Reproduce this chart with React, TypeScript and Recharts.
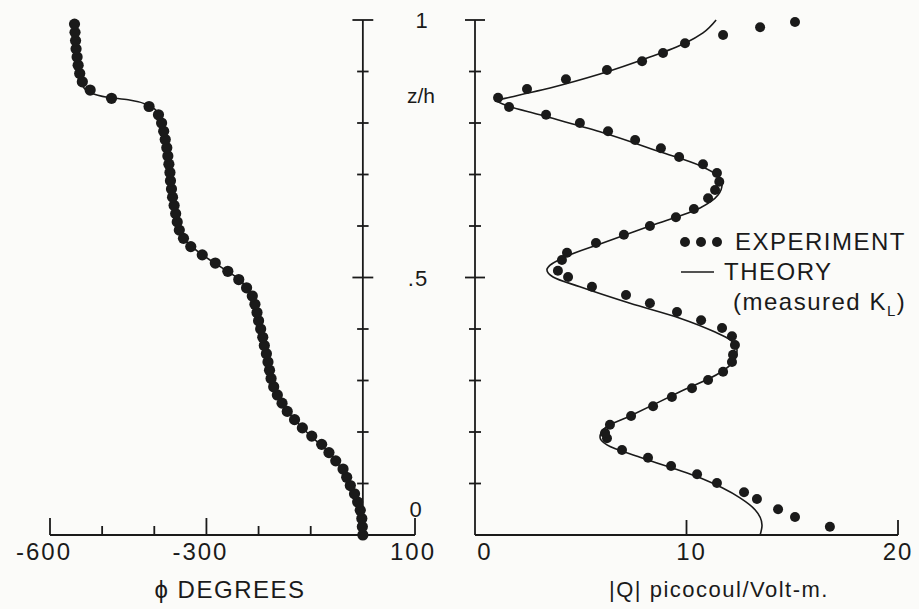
import React from 'react'
import { ScatterChart, Scatter, XAxis, YAxis, ReferenceLine } from 'recharts'

const INK = '#1a1a1a'
const FONT = '"Liberation Sans", Arial, sans-serif'

// shared z/h axis
const zTicks = [0, 0.1, 0.2, 0.3, 0.4, 0.5, 0.6, 0.7, 0.8, 0.9, 1]

// left panel: phase (degrees)
const phiTicks = [-600, -500, -400, -300, -200, -100, 0, 100]
const phiLabelled = [-600, -300, 100]

const phiExpZ = [
  0, 0.016, 0.032, 0.048, 0.064, 0.08, 0.096, 0.112, 0.128, 0.144, 0.16, 0.176, 0.192,
  0.208, 0.224, 0.24, 0.256, 0.272, 0.288, 0.304, 0.32, 0.336, 0.352, 0.368, 0.384, 0.4,
  0.416, 0.432, 0.448, 0.464, 0.48, 0.496, 0.512, 0.528, 0.544, 0.56, 0.576, 0.592, 0.608,
  0.624, 0.64, 0.656, 0.672, 0.688, 0.704, 0.72, 0.736, 0.752, 0.768, 0.784, 0.8, 0.816,
  0.832, 0.848, 0.864, 0.88, 0.896, 0.912, 0.928, 0.944, 0.96, 0.976, 0.992,
]
const phiExpDeg = [
  0, -1, -2, -5, -10, -16, -24, -31, -38, -52, -65, -79, -98,
  -116, -131, -145, -155, -164, -171, -176, -179, -182, -185, -189, -192, -196,
  -200, -203, -207, -212, -223, -238, -259, -283, -308, -330, -344, -352, -356,
  -359, -362, -365, -367, -369, -370, -372, -374, -376, -379, -382, -386, -392,
  -410, -482, -523, -538, -543, -546, -548, -550, -551, -552, -553,
]

const phiTheoryZ = [
  0, 0.04, 0.08, 0.12, 0.16, 0.2, 0.24, 0.28, 0.32, 0.36, 0.4, 0.44, 0.46, 0.48, 0.5,
  0.52, 0.54, 0.56, 0.58, 0.6, 0.64, 0.7, 0.76, 0.8, 0.82, 0.835, 0.845, 0.85, 0.86,
  0.87, 0.89, 0.95, 0.99,
]
const phiTheoryDeg = [
  0, -2, -15, -35, -65, -108, -144, -167, -179, -187, -196, -205, -210, -222, -242,
  -272, -302, -328, -347, -355, -362, -369, -377, -386, -393, -412, -450, -490, -525,
  -536, -543, -550, -552,
]

// right panel: |Q| picocoul/Volt-m
const qTicks = [0, 10, 20]

const qExpZ = [
  0.016, 0.035, 0.05, 0.07, 0.083, 0.101, 0.118, 0.134, 0.15, 0.165, 0.188, 0.198,
  0.214, 0.231, 0.25, 0.268, 0.285, 0.301, 0.317, 0.336, 0.35, 0.369, 0.386, 0.402,
  0.417, 0.433, 0.45, 0.466, 0.482, 0.501, 0.513, 0.534, 0.548, 0.567, 0.583, 0.6,
  0.617, 0.633, 0.654, 0.67, 0.686, 0.703, 0.72, 0.734, 0.751, 0.767, 0.784, 0.8,
  0.816, 0.831, 0.849, 0.866, 0.885, 0.903, 0.92, 0.936, 0.955, 0.971, 0.986, 0.996,
]
const qExpVal = [
  16.78, 15.13, 14.33, 13.33, 12.72, 11.44, 10.5, 9.27, 8.18, 6.95, 6.24, 6.15,
  6.38, 7.38, 8.42, 9.31, 10.26, 11.02, 11.73, 12.15, 12.2, 12.29, 12.15, 11.68,
  10.69, 9.55, 8.27, 7.14, 5.53, 4.4, 3.92, 4.11, 4.35, 5.72, 7.04, 8.27,
  9.5, 10.35, 11.02, 11.35, 11.55, 11.44, 10.78, 9.65, 8.79, 7.57, 6.29, 4.96,
  3.36, 1.61, 1.09, 2.46, 4.3, 6.24, 7.9, 8.89, 9.93, 11.73, 13.48, 15.13,
]

const qTheoryZ = [
  0, 0.019, 0.049, 0.072, 0.111, 0.151, 0.175, 0.19, 0.208, 0.231, 0.278, 0.315,
  0.336, 0.359, 0.379, 0.394, 0.421, 0.45, 0.482, 0.501, 0.515, 0.524, 0.54, 0.565,
  0.6, 0.635, 0.66, 0.68, 0.697, 0.717, 0.744, 0.783, 0.816, 0.835, 0.843, 0.85,
  0.868, 0.895, 0.928, 0.955, 0.975, 1.0,
]
const qTheoryVal = [
  13.48, 13.57, 13.24, 12.53, 10.64, 7.8, 6.24, 5.91, 6.15, 7.33, 9.69, 11.58,
  12.2, 12.39, 12.06, 11.35, 9.69, 7.33, 4.96, 3.69, 3.4, 3.55, 4.26, 5.91,
  8.27, 10.64, 11.49, 11.68, 11.49, 10.64, 8.75, 5.91, 3.07, 1.42, 1.04, 1.65,
  3.55, 5.91, 8.27, 9.93, 10.78, 11.4,
]

const phiExp = phiExpZ.map((z, i) => ({ z, phi: phiExpDeg[i] }))
const phiTheory = phiTheoryZ.map((z, i) => ({ z, phi: phiTheoryDeg[i] }))
const qExp = qExpZ.map((z, i) => ({ z, q: qExpVal[i] }))
const qTheory = qTheoryZ.map((z, i) => ({ z, q: qTheoryVal[i] }))

const BigDot = (p: any) => <circle cx={p.cx} cy={p.cy} r={5.6} fill={INK} />
const Dot = (p: any) => <circle cx={p.cx} cy={p.cy} r={5} fill={INK} />
const NoDot = () => <g />

function PhiTick({ x, y, payload }: any) {
  const v = payload.value
  if (v === 0) return <g />
  const big = phiLabelled.includes(v)
  return (
    <g>
      <line x1={x} y1={y} x2={x} y2={y - (big ? 17 : 9)} stroke={INK} strokeWidth={1.8} />
      {big && (
        <text x={x + (v < 0 ? -6 : -2)} y={y + 25} textAnchor="middle" fontSize={24}
              fontFamily={FONT} fill={INK} letterSpacing={2}>
          {v}
        </text>
      )}
    </g>
  )
}

function QTick({ x, y, payload }: any) {
  const v = payload.value
  return (
    <g>
      {v > 0 && <line x1={x} y1={y} x2={x} y2={y - 15} stroke={INK} strokeWidth={1.8} />}
      <text x={x + (v === 0 ? 10 : v === 10 ? 5 : 0)} y={y + 25} textAnchor="middle"
            fontSize={24} fontFamily={FONT} fill={INK} letterSpacing={2}>
        {v}
      </text>
    </g>
  )
}

function ZTick({ x, y, payload }: any) {
  const v = payload.value
  if (v === 0) return <g />
  const half = v === 1 || v === 0.5 ? 10 : 6
  return <line x1={x - half} x2={x + half} y1={y} y2={y} stroke={INK} strokeWidth={1.8} />
}

function Txt({ x, y, size = 24, spacing = 1, children }: any) {
  return (
    <div style={{
      position: 'absolute', left: x, top: y, transform: 'translate(-50%, -50%)',
      fontFamily: FONT, fontSize: size, letterSpacing: spacing, color: INK,
      whiteSpace: 'nowrap', lineHeight: 1,
    }}>
      {children}
    </div>
  )
}

export default function App() {
  return (
    <div style={{ position: 'absolute', left: 0, top: 0, width: 919, height: 609,
                  background: '#fbfbf9', overflow: 'hidden' }}>
      {/* phase panel */}
      <div style={{ position: 'absolute', left: 0, top: 0 }}>
        <ScatterChart width={460} height={609} margin={{ top: 20, right: 45, bottom: 0, left: 50 }}>
          <XAxis type="number" dataKey="phi" domain={[-600, 100]} ticks={phiTicks} interval={0}
                 height={74} tickSize={0} tickMargin={0} tick={<PhiTick />}
                 axisLine={{ stroke: INK, strokeWidth: 1.8 }} />
          <YAxis type="number" dataKey="z" domain={[0, 1]} hide />
          <ReferenceLine segment={[{ x: 0, y: 0 }, { x: 0, y: 1 }]} stroke={INK} strokeWidth={1.8} />
          {zTicks.filter((t) => t > 0).map((t) => {
            const half = t === 1 || t === 0.5 ? 20 : 11
            return (
              <ReferenceLine key={t} segment={[{ x: -half, y: t }, { x: half, y: t }]}
                             stroke={INK} strokeWidth={1.8} />
            )
          })}
          <Scatter data={phiTheory} shape={NoDot} line={{ stroke: INK, strokeWidth: 1.6 }}
                   lineJointType="monotoneY" isAnimationActive={false} />
          <Scatter data={phiExp} shape={BigDot} isAnimationActive={false} />
        </ScatterChart>
      </div>

      {/* |Q| panel */}
      <div style={{ position: 'absolute', left: 440, top: 0 }}>
        <ScatterChart width={479} height={609} margin={{ top: 20, right: 21, bottom: 0, left: 0 }}>
          <XAxis type="number" dataKey="q" domain={[0, 20]} ticks={qTicks} interval={0}
                 height={74} tickSize={0} tickMargin={0} tick={<QTick />}
                 axisLine={{ stroke: INK, strokeWidth: 1.8 }} />
          <YAxis type="number" dataKey="z" domain={[0, 1]} ticks={zTicks} interval={0}
                 width={35} tickSize={0} tickMargin={0} tick={<ZTick />}
                 axisLine={{ stroke: INK, strokeWidth: 1.8 }} />
          <Scatter data={qTheory} shape={NoDot} line={{ stroke: INK, strokeWidth: 1.6 }}
                   lineJointType="monotoneY" isAnimationActive={false} />
          <Scatter data={qExp} shape={Dot} isAnimationActive={false} />
        </ScatterChart>
      </div>

      {/* z/h axis labels */}
      <Txt x={422} y={21} size={22}>1</Txt>
      <Txt x={421} y={95} size={21} spacing={0}>z/h</Txt>
      <Txt x={418} y={279} size={22}>.5</Txt>
      <Txt x={416} y={510} size={22}>0</Txt>

      {/* axis titles */}
      <Txt x={230} y={590} size={24} spacing={1.5}>ϕ DEGREES</Txt>
      <Txt x={719} y={590} size={22} spacing={1.5}>|Q| picocoul/Volt-m.</Txt>

      {/* legend */}
      <div style={{ position: 'absolute', left: 680, top: 227, fontFamily: FONT, color: INK,
                    fontSize: 24, letterSpacing: 1.5, lineHeight: '30px' }}>
        <div style={{ display: 'flex', alignItems: 'center' }}>
          <svg width={54} height={14}>
            {[5, 21, 37].map((cx) => <circle key={cx} cx={cx} cy={7} r={5} fill={INK} />)}
          </svg>
          <span style={{ marginLeft: 1 }}>EXPERIMENT</span>
        </div>
        <div style={{ display: 'flex', alignItems: 'center' }}>
          <svg width={44} height={14}>
            <line x1={1} x2={34} y1={7} y2={7} stroke={INK} strokeWidth={1.6} />
          </svg>
          <span>THEORY</span>
        </div>
        <div style={{ marginLeft: 53 }}>
          (measured K<sub style={{ fontSize: 15 }}>L</sub>)
        </div>
      </div>
    </div>
  )
}
